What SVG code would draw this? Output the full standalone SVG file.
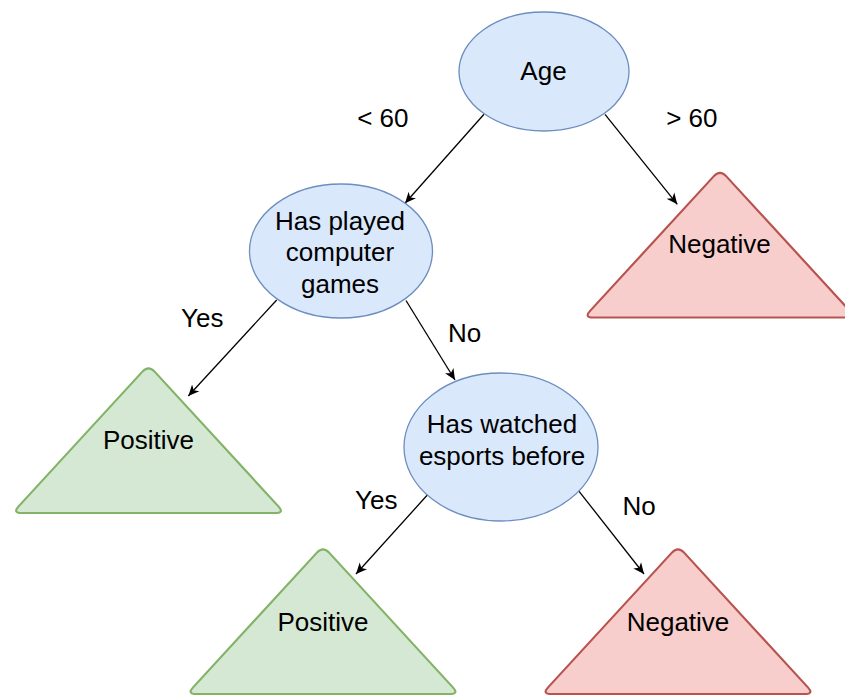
<svg xmlns="http://www.w3.org/2000/svg" xmlns:xlink="http://www.w3.org/1999/xlink" width="845" height="695" viewBox="0 0 845 695">
  <style>
    .ell { fill: #dae8fc; stroke: #6c8ebf; stroke-width: 1.3; }
    .pos { fill: #d5e8d4; stroke: #82b366; stroke-width: 2.2; }
    .neg { fill: #f8cecc; stroke: #b85450; stroke-width: 2.2; }
    .edge { fill: none; stroke: #000; stroke-width: 1.3; marker-end: url(#arrow); }
    text { font-family: "Liberation Sans", Arial, Helvetica, sans-serif; font-size: 26px; fill: #000; text-anchor: middle; }
  </style>
  <defs>
    <marker id="arrow" markerUnits="userSpaceOnUse" viewBox="0 0 10 10" refX="10" refY="5" markerWidth="11" markerHeight="11" orient="auto">
      <path d="M 10 5 L 0 0.5 L 2.8 5 L 0 9.5 Z" fill="#000"/>
    </marker>
    <path id="tri" d="M -6.09,6.63 Q 0,0 6.09,6.63 L 129.91,141.37 Q 136,148 127,148 L -127,148 Q -136,148 -129.91,141.37 Z"/>
  </defs>

  <g id="edges">
    <path class="edge" d="M 484 114.3 L 405 203.3"/>
    <path class="edge" d="M 605 114.3 L 677.3 204.3"/>
    <path class="edge" d="M 276.7 300 L 188.3 396"/>
    <path class="edge" d="M 406 300.5 L 455 380"/>
    <path class="edge" d="M 434.3 487.3 L 356 574"/>
    <path class="edge" d="M 576.7 488.3 L 644 574"/>
  </g>

  <g id="edge-labels">
    <text x="382.8" y="127.3">&lt; 60</text>
    <text x="691.8" y="127">&gt; 60</text>
    <text x="202.2" y="327.3">Yes</text>
    <text x="464.5" y="341.7">No</text>
    <text x="376.2" y="509.3">Yes</text>
    <text x="639.2" y="515">No</text>
  </g>

  <g id="node-age">
    <ellipse class="ell" cx="544" cy="71.5" rx="85" ry="59.5"/>
    <text x="543.5" y="79.5">Age</text>
  </g>

  <g id="node-played">
    <ellipse class="ell" cx="341" cy="251" rx="91.5" ry="67"/>
    <text x="340" y="229.5">Has played</text>
    <text x="340" y="261">computer</text>
    <text x="340" y="292.5">games</text>
  </g>

  <g id="node-watched">
    <ellipse class="ell" cx="501" cy="447" rx="97" ry="74"/>
    <text x="502" y="433">Has watched</text>
    <text x="502" y="465">esports before</text>
  </g>

  <g id="node-neg1">
    <use href="#tri" xlink:href="#tri" class="neg" transform="translate(720,169.5)"/>
    <text x="719.5" y="253">Negative</text>
  </g>

  <g id="node-pos1">
    <use href="#tri" xlink:href="#tri" class="pos" transform="translate(148.5,365)"/>
    <text x="148.5" y="448.5">Positive</text>
  </g>

  <g id="node-pos2">
    <use href="#tri" xlink:href="#tri" class="pos" transform="translate(323,546)"/>
    <text x="323" y="631">Positive</text>
  </g>

  <g id="node-neg2">
    <use href="#tri" xlink:href="#tri" class="neg" transform="translate(678,546)"/>
    <text x="678" y="631">Negative</text>
  </g>
</svg>
